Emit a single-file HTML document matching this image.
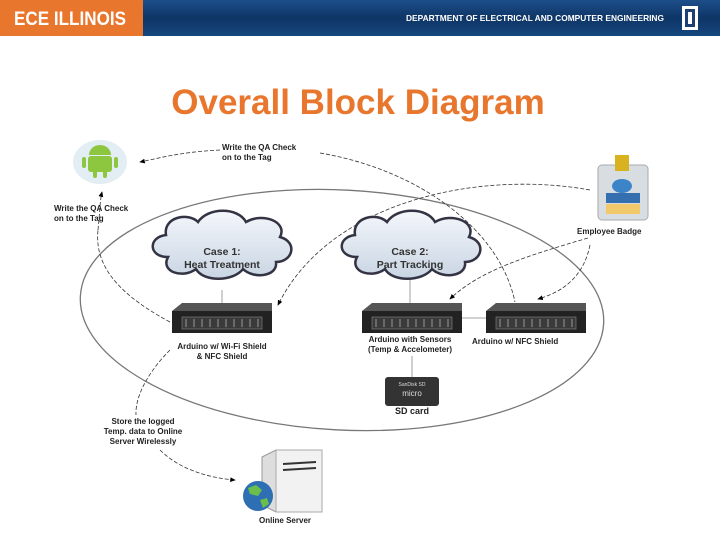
<!DOCTYPE html>
<html><head><meta charset="utf-8"><style>
body{margin:0;width:720px;height:540px;overflow:hidden;background:#fff;font-family:"Liberation Sans",sans-serif}
</style></head><body>
<svg width="720" height="540" xmlns="http://www.w3.org/2000/svg" font-family="Liberation Sans, sans-serif">
<defs>
<linearGradient id="hb" x1="0" y1="0" x2="0" y2="1">
<stop offset="0" stop-color="#1d4f8a"/><stop offset="0.5" stop-color="#0e3566"/><stop offset="1" stop-color="#15467e"/></linearGradient>
<linearGradient id="cl" x1="0" y1="0" x2="0" y2="1"><stop offset="0" stop-color="#f4f7fb"/><stop offset="1" stop-color="#c9d5e3"/></linearGradient>
<marker id="a" markerWidth="8" markerHeight="8" refX="6" refY="3" orient="auto"><path d="M0,0 L7,3 L0,6 z" fill="#000"/></marker>
<g id="srv">
<path d="M0,8 L10,0 L100,0 L100,8 z" fill="#555"/>
<rect x="0" y="8" width="100" height="22" fill="#222"/>
<rect x="10" y="14" width="80" height="12" fill="#3a3a3a" stroke="#888" stroke-width="0.6"/>
<path d="M14,16 v8 M22,16 v8 M30,16 v8 M38,16 v8 M46,16 v8 M54,16 v8 M62,16 v8 M70,16 v8 M78,16 v8 M86,16 v8" stroke="#999" stroke-width="1"/>
</g>
<g id="cloud">
<path d="M20,50 C0,50 0,30 18,28 C15,10 40,5 50,15 C60,0 90,0 98,15 C115,5 140,15 132,30 C150,35 145,55 128,55 C130,70 105,72 95,62 C85,75 55,75 48,62 C35,72 12,65 20,50 z" fill="url(#cl)" stroke="#334" stroke-width="2.5"/>
</g>
</defs>
<rect x="0" y="0" width="720" height="36" fill="url(#hb)"/>
<rect x="0" y="0" width="143" height="36" fill="#e8762d"/>
<text x="14" y="25" font-size="19" fill="#fff" font-weight="bold" textLength="112" lengthAdjust="spacingAndGlyphs">ECE ILLINOIS</text>
<text x="406" y="21" font-size="8.5" fill="#fff" font-weight="bold" textLength="258" lengthAdjust="spacingAndGlyphs">DEPARTMENT OF ELECTRICAL AND COMPUTER ENGINEERING</text>
<rect x="682" y="6" width="16" height="24" fill="#fff"/><rect x="685" y="9" width="10" height="18" fill="#1d3f74"/><rect x="688" y="12" width="4" height="12" fill="#fff"/>
<text x="358" y="114" font-size="35" font-weight="bold" fill="#e8762d" text-anchor="middle">Overall Block Diagram</text>

<ellipse cx="342" cy="310" rx="262" ry="120" fill="none" stroke="#777" stroke-width="1.3" transform="rotate(3 342 310)"/>

<g fill="none" stroke="#333" stroke-width="0.8" stroke-dasharray="4,2">
<path d="M220,150 C180,152 160,158 140,162" marker-end="url(#a)"/>
<path d="M320,153 C420,170 500,230 515,302"/>
<path d="M98,230 C100,210 100,200 102,192" marker-end="url(#a)"/>
<path d="M170,322 C110,290 95,260 98,230"/>
<path d="M590,190 C480,170 330,200 278,305" marker-end="url(#a)"/>
<path d="M588,238 C530,255 480,270 450,299" marker-end="url(#a)"/>
<path d="M590,245 C585,270 570,290 538,299" marker-end="url(#a)"/>
<path d="M170,350 C150,370 135,395 136,415"/>
<path d="M160,450 C180,470 210,478 235,480" marker-end="url(#a)"/>
</g>
<g stroke="#888" stroke-width="0.8">
<line x1="222" y1="290" x2="222" y2="304"/>
<line x1="410" y1="272" x2="410" y2="304"/>
<line x1="462" y1="318" x2="488" y2="318"/>
<line x1="412" y1="356" x2="412" y2="378"/>
</g>

<ellipse cx="100" cy="162" rx="27" ry="22" fill="#e3eef4"/>
<rect x="88" y="156" width="24" height="16" rx="3" fill="#8dc63f"/>
<path d="M89,155 a11,10 0 0 1 22,0 z" fill="#8dc63f"/>
<rect x="82" y="157" width="4" height="11" rx="2" fill="#8dc63f"/><rect x="114" y="157" width="4" height="11" rx="2" fill="#8dc63f"/>
<rect x="93" y="170" width="4" height="8" rx="2" fill="#8dc63f"/><rect x="103" y="170" width="4" height="8" rx="2" fill="#8dc63f"/>

<rect x="598" y="165" width="50" height="55" rx="4" fill="#d8dde2" stroke="#aaa"/>
<rect x="615" y="155" width="14" height="16" fill="#d9b21f"/>
<ellipse cx="622" cy="186" rx="10" ry="7" fill="#3c84c8"/>
<rect x="606" y="193" width="34" height="10" fill="#356fb0"/>
<rect x="606" y="204" width="34" height="10" fill="#f2c96a"/>

<use href="#cloud" x="148" y="207"/>
<use href="#cloud" x="337" y="207"/>

<g font-size="10.5" font-weight="bold" fill="#333" text-anchor="middle">
<text x="222" y="255">Case 1:</text><text x="222" y="268">Heat Treatment</text>
<text x="410" y="255">Case 2:</text><text x="410" y="268">Part Tracking</text>
</g>

<use href="#srv" x="172" y="303"/>
<use href="#srv" x="362" y="303"/>
<use href="#srv" x="486" y="303"/>

<rect x="385" y="377" width="54" height="29" rx="3" fill="#333"/>
<text x="412" y="386" font-size="5" fill="#ddd" text-anchor="middle">SanDisk SD</text>
<text x="412" y="396" font-size="8" fill="#ddd" text-anchor="middle">micro</text>

<path d="M262,457 L276,450 L322,450 L322,505 L276,512 L262,505 z" fill="#ddd" stroke="#999"/>
<rect x="276" y="450" width="46" height="62" fill="#f2f2f2" stroke="#aaa"/>
<line x1="283" y1="464" x2="316" y2="462" stroke="#333" stroke-width="2"/>
<line x1="283" y1="470" x2="316" y2="468" stroke="#333" stroke-width="2"/>
<circle cx="258" cy="496" r="15" fill="#2e6fb3"/>
<path d="M248,488 l8,-3 l6,5 l-4,6 l-8,-2 z M260,500 l7,-2 l2,6 l-6,4 z" fill="#6abf4b"/>

<g font-size="8" font-weight="bold" fill="#222">
<text x="222" y="150">Write the QA Check</text><text x="222" y="160">on to the Tag</text>
<text x="54" y="211">Write the QA Check</text><text x="54" y="221">on to the Tag</text>
<text x="577" y="234">Employee Badge</text>
<text x="472" y="344">Arduino w/ NFC Shield</text>
</g>
<g font-size="8" font-weight="bold" fill="#222" text-anchor="middle">
<text x="222" y="349">Arduino w/ Wi-Fi Shield</text><text x="222" y="359">&amp; NFC Shield</text>
<text x="410" y="342">Arduino with Sensors</text><text x="410" y="352">(Temp &amp; Accelometer)</text>
<text x="412" y="414" font-size="9">SD card</text>
<text x="143" y="424">Store the logged</text><text x="143" y="434">Temp. data to Online</text><text x="143" y="444">Server Wirelessly</text>
<text x="285" y="523">Online Server</text>
</g>
</svg>
</body></html>
